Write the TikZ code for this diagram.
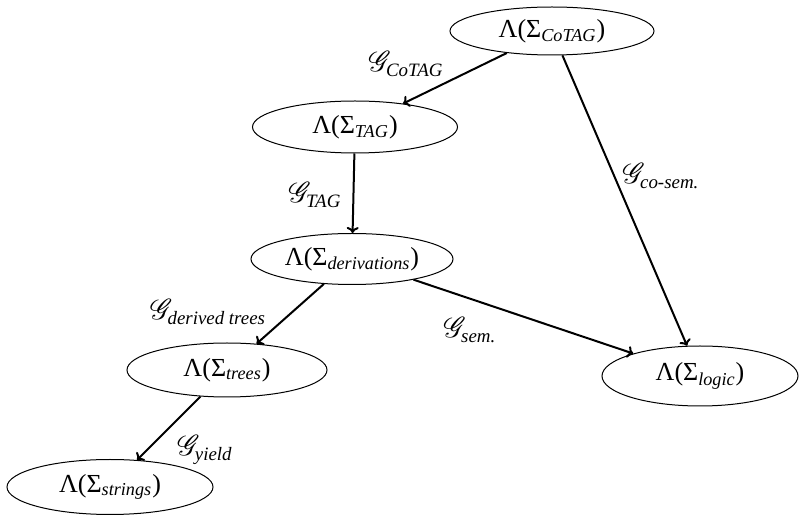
\documentclass[tikz,border=0pt]{standalone}
\usepackage{amsmath}
\usepackage{fontspec}
\usepackage{mathrsfs}
\setmainfont{Liberation Serif}
\usetikzlibrary{shapes.geometric,arrows.meta}
\tikzset{
  sig/.style={ellipse,draw,line width=0.5pt,inner sep=0pt,font=\fontsize{13}{15}\selectfont},
  lab/.style={inner sep=0pt,font=\fontsize{13.5}{15}\selectfont},
  conn/.style={draw,line width=1pt,-{To[length=3pt,width=6pt]}}
}
\begin{document}
\begin{tikzpicture}[x=0.5pt,y=-0.5pt]
\useasboundingbox (0,0) rectangle (800,518);
\node[sig,minimum width=102pt,minimum height=24pt] (cotag) at (552,31) {Λ(Σ$_{\textit{CoTAG}}$)};
\node[sig,minimum width=102.5pt,minimum height=26pt] (tag) at (355,127) {Λ(Σ$_{\textit{TAG}}$)};
\node[sig,minimum width=101pt,minimum height=25.5pt] (der) at (352,259) {Λ(Σ$_{\textit{derivations}}$)};
\node[sig,minimum width=100pt,minimum height=27pt] (trees) at (227,370) {Λ(Σ$_{\textit{trees}}$)};
\node[sig,minimum width=103pt,minimum height=27.5pt] (str) at (110,487) {Λ(Σ$_{\textit{strings}}$)};
\node[sig,minimum width=98pt,minimum height=30pt] (logic) at (700,376) {Λ(Σ$_{\textit{logic}}$)};
\draw[conn] (cotag) -- (tag);
\draw[conn] (tag) -- (der);
\draw[conn] (cotag) -- (logic);
\draw[conn] (der) -- (trees);
\draw[conn] (der) -- (logic);
\draw[conn] (trees) -- (str);
\node[lab] (lcotag) at (406,64) {$\mathscr{G}_{\textit{CoTAG}}$};
\node[lab] (ltag) at (315,195) {$\mathscr{G}_{\textit{TAG}}$};
\node[lab] (lcosem) at (661,176) {$\mathscr{G}_{\textit{co-sem.}}$};
\node[lab] (lder) at (208,312) {$\mathscr{G}_{\textit{derived trees}}$};
\node[lab] (lsem) at (470,330) {$\mathscr{G}_{\textit{sem.}}$};
\node[lab] (lyield) at (205,450) {$\mathscr{G}_{\textit{yield}}$};
\end{tikzpicture}
\end{document}
